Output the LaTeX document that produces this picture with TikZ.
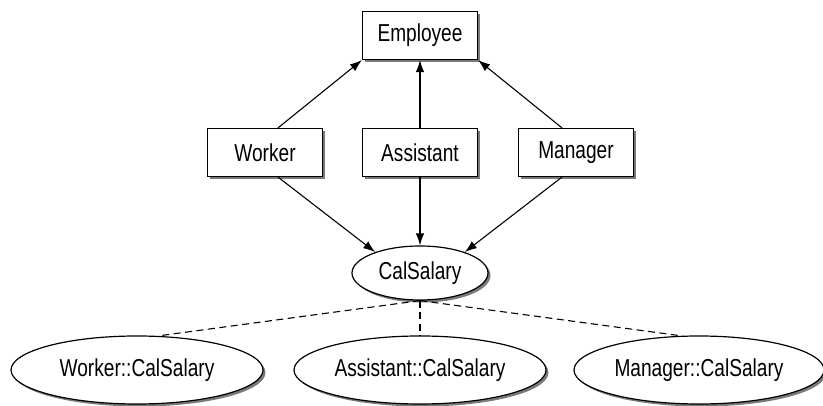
\documentclass[tikz,border=0pt]{standalone}
\usepackage{fontspec}
\setmainfont{Liberation Sans}[FakeStretch=0.78]
\usepackage{tikz}
\usetikzlibrary{positioning, arrows.meta, shapes.geometric, shadows}
\definecolor{shadowgray}{HTML}{7A7A7A}

\begin{document}
\begin{tikzpicture}[x=1pt, y=-1pt, font=\fontsize{24.5}{28}\selectfont,
  classbox/.style={draw, fill=white, line width=1.2pt, minimum width=115pt, minimum height=48pt,
        drop shadow={shadow xshift=2.5pt, shadow yshift=-2.5pt, fill=shadowgray, opacity=1}},
  methcell/.style={ellipse, draw, fill=white, line width=1.2pt, inner sep=0pt,
        drop shadow={shadow xshift=2.5pt, shadow yshift=-2.5pt, fill=shadowgray, opacity=1}},
  inherit/.style={line width=1.1pt, -{Latex[length=12pt, width=8.5pt]}},
  impl/.style={line width=1.1pt, dash pattern=on 7pt off 4.5pt}]
  \useasboundingbox (0,0) rectangle (823,406);

  \node[classbox] (emp) at (420,35.5) {Employee};
  \node[classbox] (wk)  at (265,152.5) {Worker};
  \node[classbox] (as)  at (420,152.5) {Assistant};
  \node[classbox] (mg)  at (576,152.5) {Manager};

  \node[methcell, minimum width=136pt, minimum height=54pt] (cal) at (420,273) {CalSalary};
  \node[methcell, minimum width=252pt, minimum height=68pt] (wcal) at (137,370) {Worker::CalSalary};
  \node[methcell, minimum width=252pt, minimum height=68pt] (acal) at (420,370) {Assistant::CalSalary};
  \node[methcell, minimum width=250pt, minimum height=68pt] (mcal) at (699,370) {Manager::CalSalary};

  % up to the base class
  \draw[inherit] ([xshift=13pt]wk.north) -- (emp.south west);
  \draw[inherit] (as.north) -- (emp.south);
  \draw[inherit] ([xshift=-14pt]mg.north) -- (emp.south east);

  % down to the virtual function
  \draw[inherit] ([xshift=13pt]wk.south) -- (cal.155);
  \draw[inherit] (as.south) -- (cal.north);
  \draw[inherit] ([xshift=-14pt]mg.south) -- (cal.25);

  \draw[impl] (cal.south) -- ([xshift=25pt]wcal.north);
  \draw[impl] (cal.south) -- (acal.north);
  \draw[impl] (cal.south) -- ([xshift=-21pt]mcal.north);
\end{tikzpicture}
\end{document}
